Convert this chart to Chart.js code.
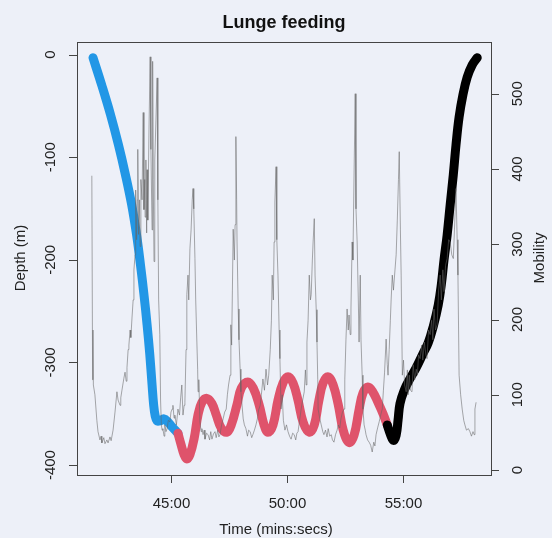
<!DOCTYPE html>
<html>
<head>
<meta charset="utf-8">
<script src="https://cdn.jsdelivr.net/npm/chart.js@4.4.1/dist/chart.umd.min.js"></script>
<style>
  html, body { margin: 0; padding: 0; background: #edf0f8; }
  canvas { display: block; }
</style>
</head>
<body>
<canvas id="dive" width="552" height="538"></canvas>
<script>
// time is in seconds (45:00 = 2700)
const xTicks = [2700, 3000, 3300];
const depthTicks = [0, -100, -200, -300, -400];
const mobilityTicks = [0, 100, 200, 300, 400, 500];

// descent (blue)
const descentTime = [2498, 2520, 2543, 2564, 2582, 2598, 2611, 2621, 2630, 2638, 2645, 2651, 2655, 2659, 2664, 2671, 2682, 2692, 2703, 2713, 2718];
const descentDepth = [-3, -29, -58, -88, -117, -146, -176, -205, -234, -263, -292, -322, -341, -352, -357, -357, -355, -358, -363, -367, -369];

// bottom phase (red)
const bottomTime = [2718, 2726, 2734, 2741, 2749, 2760, 2770, 2780, 2793, 2806, 2817, 2830, 2845, 2856, 2871, 2882, 2899, 2913, 2928, 2941, 2951, 2964, 2977, 2990, 3003, 3016, 3029, 3042, 3058, 3071, 3083, 3094, 3107, 3120, 3133, 3146, 3161, 3174, 3187, 3197, 3210, 3223, 3236, 3249, 3260];
const bottomDepth = [-369, -380, -390, -394, -390, -374, -351, -339, -335, -340, -351, -364, -368, -361, -341, -325, -319, -325, -341, -361, -368, -361, -337, -320, -314, -320, -337, -358, -368, -361, -337, -320, -314, -322, -341, -366, -378, -371, -346, -330, -324, -329, -339, -350, -361];

// ascent (black)
const ascentTime = [3260, 3268, 3276, 3283, 3288, 3293, 3304, 3317, 3335, 3353, 3366, 3379, 3392, 3400, 3407, 3415, 3423, 3431, 3438, 3446, 3456, 3467, 3480, 3493];
const ascentDepth = [-361, -370, -376, -371, -356, -340, -327, -317, -305, -291, -281, -265, -244, -224, -200, -176, -146, -117, -88, -61, -39, -22, -10, -3];

// mobility (grey, right axis)
const grayTime = [2495, 2497, 2498, 2499, 2503, 2508, 2511, 2516, 2519, 2521, 2526, 2529, 2534, 2537, 2542, 2545, 2550, 2555, 2560, 2563, 2568, 2570, 2573, 2578, 2581, 2584, 2586, 2589, 2591, 2594, 2596, 2599, 2602, 2604, 2607,
  2608, 2609, 2611, 2613, 2614, 2616, 2618, 2620, 2622, 2625, 2628, 2630, 2632, 2633, 2635, 2637, 2638, 2640, 2643, 2646, 2648, 2651, 2652, 2653, 2654, 2656, 2658, 2661, 2664, 2666, 2668, 2671, 2673, 2675,
  2677, 2679, 2682, 2684, 2687, 2690, 2693, 2697, 2700, 2703, 2705, 2708, 2710, 2714, 2718, 2722, 2725, 2728, 2731, 2734, 2736, 2739, 2741, 2744, 2746, 2749, 2752, 2755, 2757, 2759, 2762, 2764, 2767, 2769, 2770, 2772,
  2775, 2778, 2780, 2783, 2786, 2788, 2792, 2796, 2800, 2803, 2806, 2810, 2814, 2817, 2821, 2824, 2827, 2831, 2835, 2839, 2843, 2846, 2849, 2853, 2855, 2857, 2859, 2861, 2864, 2866, 2868, 2870, 2871, 2874, 2876, 2879, 2881,
  2884, 2887, 2890, 2894, 2898, 2901, 2905, 2909, 2912, 2916, 2920, 2924, 2927, 2931, 2934, 2938, 2942, 2946, 2950, 2953, 2957, 2960, 2962, 2965, 2967, 2969, 2972, 2974, 2977, 2980, 2982, 2985, 2988, 2991, 2995, 2999,
  3003, 3007, 3011, 3015, 3019, 3023, 3026, 3029, 3033, 3037, 3041, 3045, 3048, 3050, 3052, 3055, 3058, 3061, 3063, 3066, 3068, 3071, 3073, 3076, 3078, 3080, 3081, 3085, 3089, 3093, 3096, 3100, 3104, 3107, 3111, 3115,
  3118, 3122, 3126, 3130, 3133, 3137, 3140, 3144, 3148, 3150, 3153, 3156, 3159, 3161, 3164, 3166, 3169, 3171, 3174, 3177, 3179, 3182, 3185, 3187, 3190, 3192, 3195, 3197, 3200, 3203, 3205, 3209, 3213, 3217, 3221, 3225,
  3228, 3231, 3235, 3239, 3243, 3247, 3250, 3253, 3257, 3260, 3262, 3265, 3268, 3270, 3273, 3276, 3280, 3283, 3286, 3289, 3291, 3294, 3296, 3299, 3302, 3305, 3309, 3312, 3314, 3317, 3320, 3324, 3327, 3331, 3335, 3338,
  3341, 3345, 3349, 3352, 3356, 3360, 3363, 3367, 3371, 3375, 3378, 3381, 3385, 3389, 3393, 3397, 3400, 3404, 3407, 3411, 3415, 3419, 3423, 3427, 3431, 3434, 3436, 3438, 3441, 3443, 3446, 3450, 3454, 3458, 3461, 3465,
  3470, 3474, 3478, 3482, 3485, 3487, 3490];
const grayMobility = [391, 120, 186, 113, 100, 66, 51, 40, 45, 36, 43, 35, 40, 36, 44, 39, 53, 77, 104, 93, 86, 96, 106, 122, 130, 118, 136, 160, 166, 186, 176, 202, 226, 266, 286,
  319, 372, 306, 359, 426, 313, 359, 297, 386, 359, 475, 346, 386, 336, 412, 315, 399, 332, 452, 549, 426, 319, 456, 543, 386, 277, 412, 465, 521, 359, 226, 180, 93, 60,
  53, 55, 45, 60, 51, 55, 66, 64, 77, 81, 86, 69, 73, 60, 81, 73, 96, 113, 73, 86, 90, 160, 233, 259, 226, 294, 319, 359, 374, 347, 281, 226, 170, 134, 104, 120,
  64, 51, 55, 47, 53, 41, 49, 47, 40, 51, 41, 48, 51, 43, 53, 44, 47, 60, 68, 77, 81, 100, 113, 126, 193, 166, 239, 320, 279, 326, 443, 359, 303, 214, 173, 134, 104,
  86, 68, 60, 55, 45, 53, 51, 43, 47, 53, 60, 69, 80, 86, 100, 121, 106, 134, 113, 126, 160, 199, 259, 226, 303, 356, 403, 306, 259, 186, 148, 81, 100, 66, 53, 60,
  51, 45, 41, 49, 47, 40, 49, 51, 66, 81, 93, 104, 133, 113, 170, 199, 259, 226, 233, 279, 303, 334, 259, 213, 170, 120, 81, 69, 60, 51, 47, 53, 44, 55, 45, 47,
  40, 37, 47, 53, 60, 56, 68, 77, 81, 120, 173, 214, 186, 206, 180, 214, 303, 279, 392, 500, 347, 303, 226, 170, 259, 173, 126, 81, 60, 53, 47, 40, 37, 33, 24, 37,
  32, 47, 56, 64, 73, 81, 106, 130, 174, 140, 126, 160, 199, 226, 259, 239, 266, 286, 332, 386, 423, 319, 259, 126, 146, 113, 104, 133, 100, 126, 106, 104, 140, 120, 134, 126,
  153, 148, 166, 146, 170, 153, 148, 186, 180, 199, 173, 214, 186, 193, 239, 259, 226, 266, 237, 272, 281, 306, 303, 286, 281, 319, 347, 374, 306, 259, 126, 100, 81, 66, 60, 53,
  55, 51, 45, 51, 47, 81, 90];

const zip = (t, v) => t.map((x, i) => ({ x: x, y: v[i] }));

const fontFamily = '"Liberation Sans", Arial, Helvetica, sans-serif';

function fmtTime(s) {
    const m = Math.floor(s / 60);
    const sec = Math.round(s - m * 60);
    return m + ":" + String(sec).padStart(2, "0");
}

// R style frame, ticks and labels
const rAxes = {
    id: "rAxes",
    beforeDraw(chart) {
        const ctx = chart.ctx;
        ctx.save();
        ctx.fillStyle = "#edf0f8";
        ctx.fillRect(0, 0, chart.width, chart.height);
        ctx.restore();
    },
    afterDraw(chart) {
        const ctx = chart.ctx;
        const a = chart.chartArea;
        const sx = chart.scales.x, sy = chart.scales.y, sy2 = chart.scales.y2;
        ctx.save();
        ctx.strokeStyle = "#444";
        ctx.lineWidth = 1;
        ctx.strokeRect(a.left + 0.5, a.top + 0.5, a.right - a.left, a.bottom - a.top);

        ctx.fillStyle = "#222";
        ctx.font = "15px " + fontFamily;
        ctx.textAlign = "center";
        ctx.textBaseline = "middle";

        // bottom axis
        ctx.beginPath();
        xTicks.forEach(t => {
            const px = Math.round(sx.getPixelForValue(t)) + 0.5;
            ctx.moveTo(px, a.bottom);
            ctx.lineTo(px, a.bottom + 8);
            ctx.fillText(fmtTime(t), px, 504);
        });
        ctx.stroke();

        // left axis
        ctx.beginPath();
        depthTicks.forEach(v => {
            const py = Math.round(sy.getPixelForValue(v)) + 0.5;
            ctx.moveTo(a.left, py);
            ctx.lineTo(a.left - 8, py);
        });
        ctx.stroke();
        depthTicks.forEach(v => {
            const py = sy.getPixelForValue(v);
            ctx.save();
            ctx.translate(51, py);
            ctx.rotate(-Math.PI / 2);
            ctx.fillText(String(v), 0, 0);
            ctx.restore();
        });

        // right axis
        ctx.beginPath();
        mobilityTicks.forEach(v => {
            const py = Math.round(sy2.getPixelForValue(v)) + 0.5;
            ctx.moveTo(a.right, py);
            ctx.lineTo(a.right + 8, py);
        });
        ctx.stroke();
        mobilityTicks.forEach(v => {
            const py = sy2.getPixelForValue(v);
            ctx.save();
            ctx.translate(518, py);
            ctx.rotate(-Math.PI / 2);
            ctx.fillText(String(v), 0, 0);
            ctx.restore();
        });

        // titles
        ctx.fillText("Time (mins:secs)", 276, 530);
        ctx.save();
        ctx.translate(21, 258);
        ctx.rotate(-Math.PI / 2);
        ctx.fillText("Depth (m)", 0, 0);
        ctx.restore();
        ctx.save();
        ctx.translate(540, 258);
        ctx.rotate(-Math.PI / 2);
        ctx.fillText("Mobility", 0, 0);
        ctx.restore();

        ctx.font = "bold 18px " + fontFamily;
        ctx.fillStyle = "#111";
        ctx.fillText("Lunge feeding", 284, 23);
        ctx.restore();
    }
};

const depthStyle = {
    yAxisID: "y",
    borderWidth: 9,
    borderCapStyle: "round",
    borderJoinStyle: "round",
    pointRadius: 0,
    tension: 0.4,
    fill: false
};

const hiddenAxis = {
    ticks: { display: false },
    grid: { display: false },
    border: { display: false }
};

new Chart(document.getElementById("dive"), {
    type: "line",
    data: {
        datasets: [
            {
                label: "Mobility",
                data: zip(grayTime, grayMobility),
                yAxisID: "y2",
                borderColor: "rgba(100,100,100,0.55)",
                borderWidth: 1,
                pointRadius: 0,
                tension: 0,
                order: 0
            },
            Object.assign({ label: "Descent", data: zip(descentTime, descentDepth), borderColor: "#2297E6", order: 3 }, depthStyle),
            Object.assign({ label: "Bottom", data: zip(bottomTime, bottomDepth), borderColor: "#DF536B", order: 2 }, depthStyle),
            Object.assign({ label: "Ascent", data: zip(ascentTime, ascentDepth), borderColor: "#000000", order: 1 }, depthStyle)
        ]
    },
    options: {
        responsive: false,
        animation: false,
        layout: { padding: { top: 42, left: 0, right: 0, bottom: 0 } },
        plugins: {
            legend: { display: false },
            tooltip: { enabled: false }
        },
        scales: {
            x: Object.assign({
                type: "linear",
                min: 2456.6,
                max: 3528.6,
                afterFit: s => { s.height = 63; }
            }, hiddenAxis),
            y: Object.assign({
                position: "left",
                min: -409.7,
                max: 12.3,
                afterFit: s => { s.width = 77; }
            }, hiddenAxis),
            y2: Object.assign({
                position: "right",
                min: -6.6,
                max: 568.7,
                afterFit: s => { s.width = 61; }
            }, hiddenAxis)
        }
    },
    plugins: [rAxes]
});
</script>
</body>
</html>
